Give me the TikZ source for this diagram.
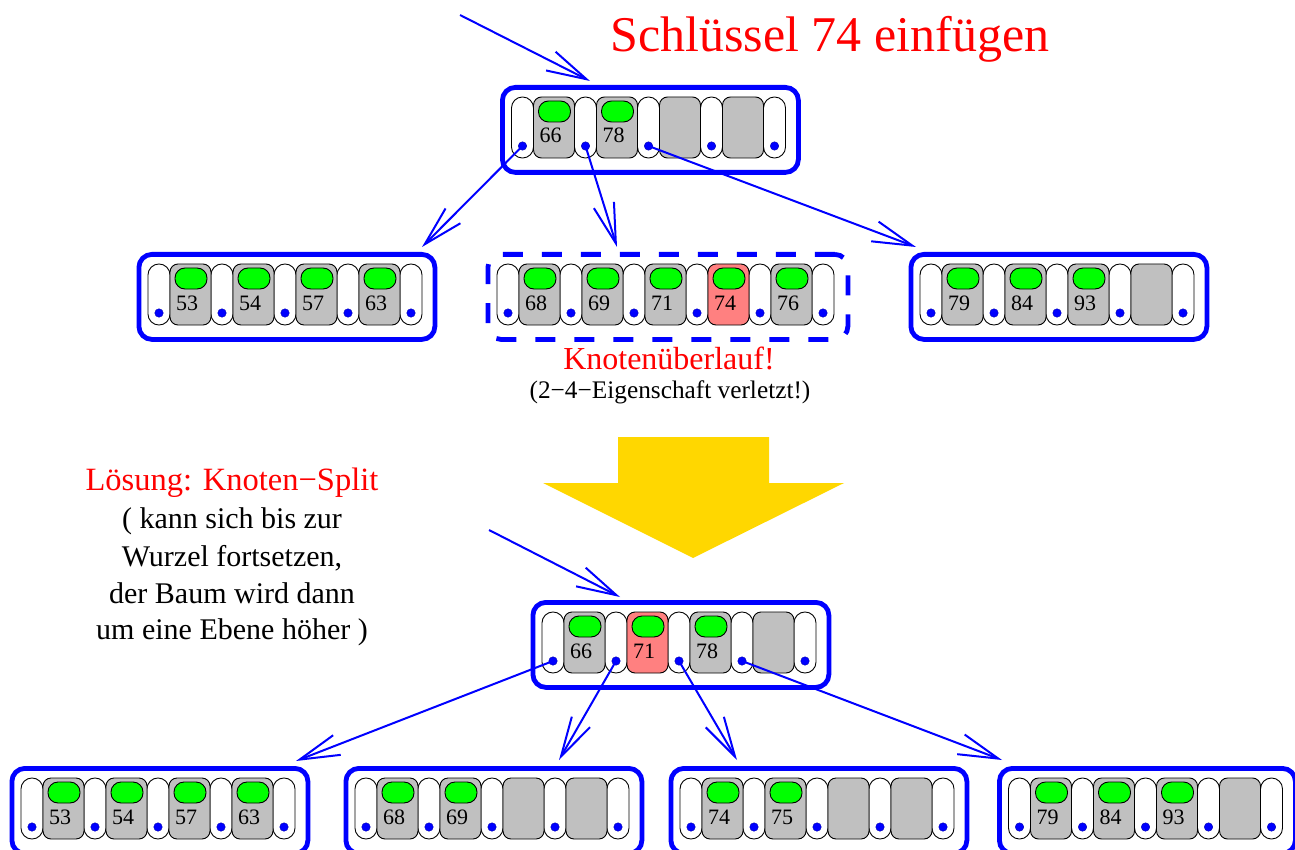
\documentclass[tikz,border=0pt]{standalone}
\usepackage{fontspec}
\setmainfont{Liberation Serif}
\usetikzlibrary{arrows.meta}
\definecolor{keygray}{RGB}{192,192,192}
\definecolor{keyred}{RGB}{255,128,128}
\definecolor{keygreen}{RGB}{0,255,0}
\definecolor{bigarrow}{RGB}{255,215,0}
\tikzset{
  slot/.style={draw=black, fill=white, line width=0.9pt, rounded corners=10.9pt},
  keybox/.style={draw=black, line width=0.9pt, rounded corners=8pt},
  pill/.style={draw=black, fill=keygreen, line width=0.9pt, rounded corners=10pt},
  keylabel/.style={inner sep=0pt, anchor=base, font=\fontsize{22}{24}\selectfont},
  dot/.style={circle, fill=blue, draw=blue!70!black, line width=0.4pt, inner sep=0pt, minimum size=8.5pt},
  outerbox/.style={draw=blue, line width=4.8pt, rounded corners=13pt, inner sep=0pt, minimum height=85pt, anchor=north west},
  ptr/.style={draw=blue, line width=2pt, -{Straight Barb[length=40pt, width=21pt, line width=2pt]}},
  redtext/.style={text=red, inner sep=0pt, anchor=base},
  blacktext/.style={text=black, inner sep=0pt, anchor=base},
  sidetext/.style={blacktext, font=\fontsize{30}{34}\selectfont}
}
\newcommand\btree[5]{%
  \foreach \j in {0,...,#4} {
    \draw[slot] ({#2+\j*63},#3) rectangle ++(22,61);
    \node[dot] (#1d\j) at ({#2+11+\j*63},{#3+49}) {};
  }
  \foreach \c/\o/\lab [count=\i from 0] in {#5} {
    \draw[keybox, fill=\c] ({#2+22+\i*63},#3) rectangle ++(41,61);
    \draw[pill, opacity=\o] ({#2+27+\i*63},{#3+4}) rectangle ++(32,21);
    \node[keylabel] (#1k\i) at ({#2+39+\i*63},{#3+46}) {\lab};
  }
}
\begin{document}
\begin{tikzpicture}[x=1pt, y=-1pt]
\useasboundingbox (0,0) rectangle (1295,850);

% title
\node[redtext, font=\fontsize{50}{56}\selectfont] (title) at (830,52) {Schlüssel 74 einfügen};

% outer boxes
\node[outerbox, minimum width=296pt] (R1) at (500,85) {};
\node[outerbox, minimum width=296pt] (L) at (136.5,252) {};
\node[outerbox, minimum width=360pt, dash pattern=on 20pt off 19pt] (M) at (485.5,252) {};
\node[outerbox, minimum width=296pt] (Rt) at (908.5,252) {};
\node[outerbox, minimum width=296pt] (R2) at (530.5,600) {};
\node[outerbox, minimum width=296pt] (B1) at (9.5,766) {};
\node[outerbox, minimum width=296pt] (B2) at (343.5,766) {};
\node[outerbox, minimum width=296pt] (B3) at (668.5,766) {};
\node[outerbox, minimum width=296pt] (B4) at (997,766) {};

% node contents
\btree{R1}{511.5}{97}{4}{keygray/1/66, keygray/1/78, keygray/0/{}, keygray/0/{}}
\btree{L}{148}{264}{4}{keygray/1/53, keygray/1/54, keygray/1/57, keygray/1/63}
\btree{M}{497}{264}{5}{keygray/1/68, keygray/1/69, keygray/1/71, keyred/1/74, keygray/1/76}
\btree{Rt}{920}{264}{4}{keygray/1/79, keygray/1/84, keygray/1/93, keygray/0/{}}
\btree{R2}{542}{612}{4}{keygray/1/66, keyred/1/71, keygray/1/78, keygray/0/{}}
\btree{B1}{21}{778}{4}{keygray/1/53, keygray/1/54, keygray/1/57, keygray/1/63}
\btree{B2}{355}{778}{4}{keygray/1/68, keygray/1/69, keygray/0/{}, keygray/0/{}}
\btree{B3}{680}{778}{4}{keygray/1/74, keygray/1/75, keygray/0/{}, keygray/0/{}}
\btree{B4}{1008.5}{778}{4}{keygray/1/79, keygray/1/84, keygray/1/93, keygray/0/{}}

% texts
\node[redtext, font=\fontsize{32}{36}\selectfont] (over) at (669,369) {Knotenüberlauf!};
\node[blacktext, font=\fontsize{25.3}{28}\selectfont] (over2) at (670,398) {(2−4−Eigenschaft verletzt!)};

\node[redtext, font=\fontsize{32.5}{36}\selectfont] (t1) at (232,490) {Lösung: Knoten−Split};
\node[sidetext] (t2) at (232,528) {( kann sich bis zur};
\node[sidetext] (t3) at (232,566) {Wurzel fortsetzen,};
\node[sidetext] (t4) at (232,603) {der Baum wird dann};
\node[sidetext] (t5) at (232,639) {um eine Ebene höher )};

% big yellow arrow
\fill[bigarrow] (618,437) -- (769,437) -- (769,483) -- (844,483) -- (693,558) -- (543,483) -- (618,483) -- cycle;

% pointer targets
\coordinate (in1) at (460,15);
\coordinate (in1t) at (590,81);
\coordinate (tL) at (422,247);
\coordinate (tM) at (617,247);
\coordinate (tR) at (916,247);
\coordinate (in2) at (489,530);
\coordinate (in2t) at (620,597);
\coordinate (tB1) at (296,761);
\coordinate (tB2) at (559,760);
\coordinate (tB3) at (737,760);
\coordinate (tB4) at (1002,760);

% connectors
\draw[ptr] (in1) -- (in1t);
\draw[ptr] (R1d0.center) -- (tL);
\draw[ptr] (R1d1.center) -- (tM);
\draw[ptr] (R1d2.center) -- (tR);
\draw[ptr] (in2) -- (in2t);
\draw[ptr] (R2d0.center) -- (tB1);
\draw[ptr] (R2d1.center) -- (tB2);
\draw[ptr] (R2d2.center) -- (tB3);
\draw[ptr] (R2d3.center) -- (tB4);
\end{tikzpicture}
\end{document}
